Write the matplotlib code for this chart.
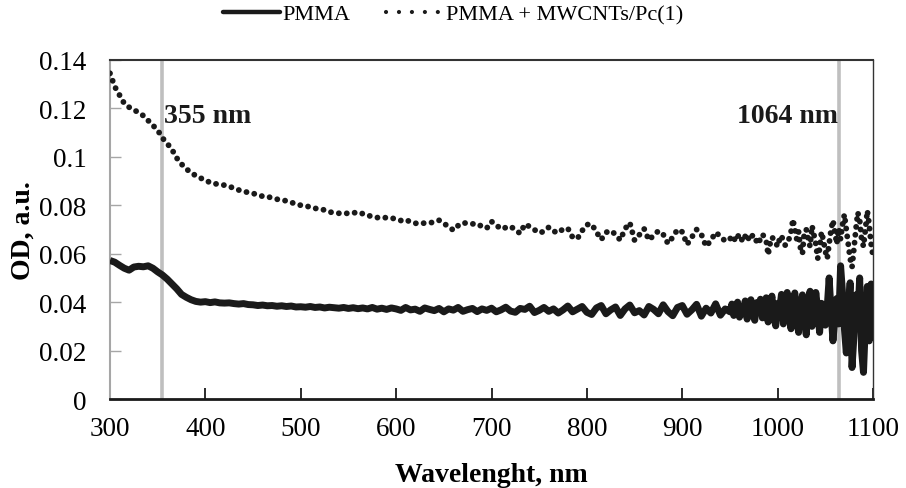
import numpy as np
import matplotlib
matplotlib.use("Agg")
import matplotlib.pyplot as plt
from matplotlib.lines import Line2D

plt.rcParams['font.family'] = ['Liberation Serif', 'DejaVu Serif']

# wavelength grid of the spectra (nm)
wl_coarse = np.arange(300, 950, 5)
wl_fine = np.arange(950, 1101, 2)
wl = np.concatenate([wl_coarse, wl_fine])

# PMMA
pmma = [
    0.0572, 0.0565, 0.0552, 0.0540, 0.0532, 0.0545, 0.0548, 0.0546, 0.0550, 0.0540,
    0.0525, 0.0512, 0.0495, 0.0475, 0.0455, 0.0432, 0.0420, 0.0410, 0.0403, 0.0400,
    0.0402, 0.0398, 0.0401, 0.0397, 0.0396, 0.0397, 0.0394, 0.0392, 0.0394, 0.0390,
    0.0389, 0.0386, 0.0388, 0.0385, 0.0386, 0.0383, 0.0385, 0.0382, 0.0384, 0.0380,
    0.0381, 0.0379, 0.0382, 0.0378, 0.0380, 0.0376, 0.0379, 0.0377, 0.0375, 0.0378,
    0.0374, 0.0377, 0.0373, 0.0376, 0.0372, 0.0378, 0.0371, 0.0375, 0.0370, 0.0376,
    0.0372, 0.0366, 0.0378, 0.0368, 0.0371, 0.0362, 0.0376, 0.0370, 0.0365, 0.0374,
    0.0360, 0.0372, 0.0367, 0.0378, 0.0362, 0.0369, 0.0374, 0.0361, 0.0372, 0.0366,
    0.0375, 0.0360, 0.0368, 0.0379, 0.0363, 0.0358, 0.0374, 0.0370, 0.0383, 0.0357,
    0.0366, 0.0378, 0.0362, 0.0372, 0.0355, 0.0368, 0.0384, 0.0360, 0.0371, 0.0382,
    0.0358, 0.0349, 0.0376, 0.0386, 0.0352, 0.0368, 0.0380, 0.0345, 0.0372, 0.0388,
    0.0356, 0.0365, 0.0347, 0.0382, 0.0370, 0.0352, 0.0389, 0.0361, 0.0344, 0.0378,
    0.0386, 0.0350, 0.0368, 0.0391, 0.0342, 0.0375, 0.0355, 0.0393, 0.0346, 0.0372,
    # 950 - 1100, every 2 nm
    0.0360, 0.0392, 0.0345, 0.0370, 0.0400, 0.0338, 0.0382, 0.0352, 0.0405, 0.0330,
    0.0375, 0.0410, 0.0348, 0.0325, 0.0398, 0.0368, 0.0412, 0.0335, 0.0360, 0.0418,
    0.0318, 0.0385, 0.0425, 0.0340, 0.0302, 0.0395, 0.0365, 0.0432, 0.0310, 0.0370,
    0.0440, 0.0350, 0.0290, 0.0398, 0.0438, 0.0330, 0.0275, 0.0385, 0.0430, 0.0345,
    0.0265, 0.0405, 0.0445, 0.0300, 0.0325, 0.0440, 0.0370, 0.0275, 0.0395, 0.0350,
    0.0305, 0.0380, 0.0500, 0.0360, 0.0240, 0.0335, 0.0415, 0.0310, 0.0550, 0.0440,
    0.0290, 0.0190, 0.0360, 0.0480, 0.0130, 0.0260, 0.0430, 0.0330, 0.0500, 0.0200,
    0.0110, 0.0310, 0.0465, 0.0240, 0.0475, 0.0380,
]

# PMMA + MWCNTs/Pc(1)
pmma_cnt = [
    0.1345, 0.1290, 0.1255, 0.1220, 0.1205, 0.1195, 0.1182, 0.1170, 0.1150, 0.1130,
    0.1110, 0.1078, 0.1055, 0.1030, 0.0995, 0.0970, 0.0950, 0.0935, 0.0922, 0.0912,
    0.0905, 0.0893, 0.0889, 0.0886, 0.0883, 0.0879, 0.0869, 0.0863, 0.0857, 0.0853,
    0.0849, 0.0843, 0.0837, 0.0836, 0.0830, 0.0825, 0.0822, 0.0818, 0.0812, 0.0805,
    0.0800, 0.0798, 0.0792, 0.0787, 0.0786, 0.0780, 0.0772, 0.0770, 0.0767, 0.0768,
    0.0766, 0.0768, 0.0772, 0.0765, 0.0757, 0.0755, 0.0749, 0.0751, 0.0748, 0.0748,
    0.0742, 0.0737, 0.0741, 0.0731, 0.0726, 0.0723, 0.0727, 0.0727, 0.0731, 0.0738,
    0.0725, 0.0712, 0.0697, 0.0716, 0.0728, 0.0725, 0.0723, 0.0724, 0.0712, 0.0705,
    0.0733, 0.0718, 0.0702, 0.0708, 0.0713, 0.0698, 0.0684, 0.0722, 0.0712, 0.0699,
    0.0686, 0.0692, 0.0709, 0.0693, 0.0686, 0.0702, 0.0705, 0.0668, 0.0662, 0.0695,
    0.0720, 0.0722, 0.0690, 0.0658, 0.0688, 0.0695, 0.0680, 0.0656, 0.0703, 0.0728,
    0.0655, 0.0678, 0.0703, 0.0656, 0.0676, 0.0694, 0.0680, 0.0642, 0.0668, 0.0700,
    0.0690, 0.0638, 0.0668, 0.0700, 0.0680, 0.0630, 0.0655, 0.0688, 0.0672, 0.0652,
    # 950 - 1100, every 2 nm
    0.0660, 0.0675, 0.0665, 0.0652, 0.0670, 0.0680, 0.0660, 0.0650, 0.0672, 0.0682,
    0.0655, 0.0662, 0.0678, 0.0668, 0.0650, 0.0640, 0.0665, 0.0680, 0.0670, 0.0655,
    0.0595, 0.0640, 0.0668, 0.0660, 0.0645, 0.0630, 0.0660, 0.0675, 0.0650, 0.0635,
    0.0640, 0.0662, 0.0690, 0.0742, 0.0700, 0.0660, 0.0690, 0.0620, 0.0600, 0.0688,
    0.0700, 0.0660, 0.0630, 0.0715, 0.0680, 0.0640, 0.0580, 0.0620, 0.0690, 0.0655,
    0.0610, 0.0580, 0.0640, 0.0700, 0.0738, 0.0690, 0.0640, 0.0705, 0.0660, 0.0720,
    0.0762, 0.0700, 0.0640, 0.0580, 0.0545, 0.0620, 0.0700, 0.0770, 0.0740, 0.0660,
    0.0630, 0.0700, 0.0778, 0.0720, 0.0640, 0.0590,
]

laser_lines = [355, 1064]
laser_labels = ['355 nm', '1064 nm']

ink = '#1a1a1a'
fig = plt.figure(figsize=(9.06, 4.89), dpi=100)
ax = fig.add_axes([0.1214, 0.182, 0.9636 - 0.1214, 0.8753 - 0.182])

for x in laser_lines:
    ax.axvline(x, color='#bfbfbf', lw=2.6, zorder=1)

ax.plot(wl, pmma, color=ink, lw=5.0, solid_joinstyle='round',
        solid_capstyle='butt', zorder=3)
ax.plot(wl, pmma_cnt, color=ink, lw=4.2, linestyle=(0, (0.01, 1.35)),
        dash_capstyle='round', zorder=3)

ax.text(357, 0.1169, laser_labels[0], fontsize=20, fontweight='bold',
        va='center', ha='left', color=ink)
ax.text(1063, 0.1169, laser_labels[1], fontsize=20, fontweight='bold',
        va='center', ha='right', color=ink)

ax.set_xlim(300, 1100)
ax.set_ylim(0, 0.14)
ax.set_xticks(range(300, 1101, 100))
ax.set_yticks([0, 0.02, 0.04, 0.06, 0.08, 0.1, 0.12, 0.14])
ax.set_yticklabels(['0', '0.02', '0.04', '0.06', '0.08', '0.1', '0.12', '0.14'])

ax.spines['left'].set_color('#a6a6a6')
ax.spines['left'].set_linewidth(1.5)
ax.spines['bottom'].set_color(ink)
ax.spines['bottom'].set_linewidth(2)
ax.spines['top'].set_color('#333333')
ax.spines['top'].set_linewidth(1.5)
ax.spines['right'].set_color('#333333')
ax.spines['right'].set_linewidth(1)

ax.tick_params(axis='x', direction='in', length=8, width=1.3, color=ink,
               labelsize=19.5, pad=12)
ax.tick_params(axis='y', direction='in', length=8, width=1, color='#a6a6a6',
               labelsize=19.5, pad=17)

ax.set_xlabel('Wavelenght, nm', fontsize=20, fontweight='bold')
ax.set_ylabel('OD, a.u.', fontsize=20, fontweight='bold')
ax.xaxis.set_label_coords(0.5, -0.187)
ax.yaxis.set_label_coords(-0.098, 0.5)

handles = [
    Line2D([], [], color=ink, lw=3.2, solid_capstyle='round'),
    Line2D([], [], color=ink, lw=3.0, linestyle=(0, (0.01, 3.1)),
           dash_capstyle='round'),
]
fig.legend(handles, ['PMMA', 'PMMA + MWCNTs/Pc(1)'], loc='center',
           bbox_to_anchor=(0.5, 0.969), ncol=2, frameon=False, fontsize=16,
           handlelength=2.6, columnspacing=1.6, handletextpad=0.1)

fig.savefig('out.png', dpi=100)
